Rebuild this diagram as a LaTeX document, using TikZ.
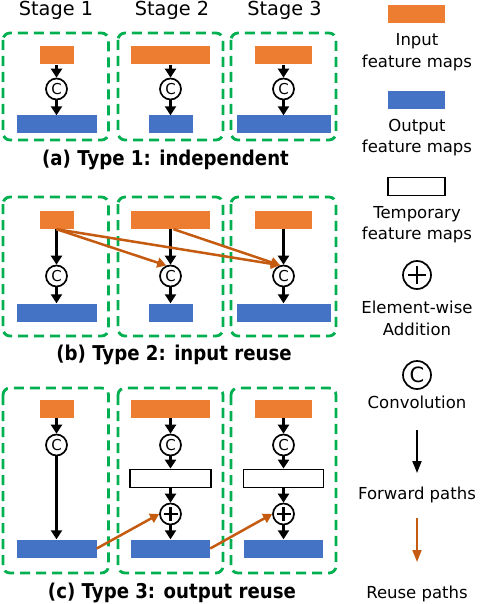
\documentclass[tikz,border=0pt]{standalone}
\usepackage{fontspec}
\usepackage{graphicx}
\setmainfont{DejaVu Sans}
\newcommand{\capbox}[1]{\scalebox{0.89}[1]{\bfseries #1}}
\usetikzlibrary{arrows.meta}
\definecolor{inorange}{HTML}{ED7D31}
\definecolor{outblue}{HTML}{4472C4}
\definecolor{reusecol}{HTML}{C55A11}
\definecolor{stagegreen}{HTML}{00B050}
\tikzset{
  stagebox/.style={draw=stagegreen, line width=2.8pt, dash pattern=on 10pt off 6pt, rounded corners=7pt},
  inmap/.style={fill=inorange, draw=none, minimum height=18pt, inner sep=0pt},
  outmap/.style={fill=outblue, draw=none, minimum height=18pt, inner sep=0pt},
  tmpmap/.style={draw=black, line width=1.8pt, fill=white, minimum height=18pt, inner sep=0pt},
  convop/.style={circle, draw=black, fill=white, line width=1.7pt, minimum size=21pt, inner sep=0pt, font=\fontsize{15}{15}\selectfont},
  addop/.style={circle, draw=black, fill=white, line width=1.7pt, minimum size=21pt, inner sep=0pt,
    path picture={\draw[line width=2.2pt] ([xshift=-#1]path picture bounding box.center) -- ([xshift=#1]path picture bounding box.center);
                  \draw[line width=2.2pt] ([yshift=-#1]path picture bounding box.center) -- ([yshift=#1]path picture bounding box.center);}},
  addop/.default=7pt,
  fwd/.style={draw=black, line width=2.6pt, -{Triangle[length=9pt,width=11pt]}},
  reusearrow/.style={draw=reusecol, line width=2.5pt, -{Triangle[length=9pt,width=10pt]}},
  legfwd/.style={draw=black, line width=1.8pt, -{Triangle[length=12pt,width=9pt]}},
  legreuse/.style={draw=reusecol, line width=1.8pt, -{Triangle[length=12pt,width=9pt]}},
  stagelabel/.style={anchor=base, inner sep=0pt, font=\fontsize{19.3}{20}\selectfont},
  caplabel/.style={anchor=base, inner sep=0pt, font=\fontsize{20.4}{22}\selectfont},
  legtext/.style={anchor=base, inner sep=0pt, font=\fontsize{16.5}{18}\selectfont},
}
\begin{document}
\begin{tikzpicture}[x=1pt,y=-1pt]
\useasboundingbox (0,0) rectangle (482,604);

% stage labels
\node[stagelabel] (st1) at (56,15.7) {Stage 1};
\node[stagelabel] (st2) at (172,15.7) {Stage 2};
\node[stagelabel] (st3) at (284.5,15.7) {Stage 3};

% ---------- panel a ----------
\draw[stagebox] (3,33) rectangle (108.5,140);
\draw[stagebox] (118,33) rectangle (223,140);
\draw[stagebox] (231,33) rectangle (336,140);
\node[inmap, minimum width=34pt] (a1i) at (56.5,55.5) {};
\node[inmap, minimum width=79pt] (a2i) at (170.5,55.5) {};
\node[inmap, minimum width=57pt] (a3i) at (283.5,55.5) {};
\node[convop] (a1c) at (56.5,89) {C};
\node[convop] (a2c) at (170.5,89) {C};
\node[convop] (a3c) at (283.5,89) {C};
\node[outmap, minimum width=80pt] (a1o) at (56.5,124.5) {};
\node[outmap, minimum width=44pt] (a2o) at (170.5,124.5) {};
\node[outmap, minimum width=94pt] (a3o) at (283.5,124.5) {};
\foreach \k in {1,2,3}{
  \draw[fwd] (a\k i) -- (a\k c);
  \draw[fwd] (a\k c) -- (a\k o);
}
\node[caplabel] (capa) at (165.5,165) {\capbox{(a) Type 1: independent}};

% ---------- panel b ----------
\draw[stagebox] (3,197) rectangle (108.5,336);
\draw[stagebox] (118,197) rectangle (223,336);
\draw[stagebox] (231,197) rectangle (336,336);
\node[inmap, minimum width=34pt] (b1i) at (56.5,220) {};
\node[inmap, minimum width=79pt] (b2i) at (170.5,220) {};
\node[inmap, minimum width=57pt] (b3i) at (283.5,220) {};
\node[convop] (b1c) at (56.5,276) {C};
\node[convop] (b2c) at (170.5,276) {C};
\node[convop] (b3c) at (283.5,276) {C};
\node[outmap, minimum width=80pt] (b1o) at (56.5,312.5) {};
\node[outmap, minimum width=44pt] (b2o) at (170.5,312.5) {};
\node[outmap, minimum width=94pt] (b3o) at (283.5,312.5) {};
\foreach \k in {1,2,3}{
  \draw[fwd] (b\k i) -- (b\k c);
  \draw[fwd] (b\k c) -- (b\k o);
}
\draw[reusearrow] (b1i.south) -- (b2c.112);
\draw[reusearrow] (b1i.south) -- (b3c.108);
\draw[reusearrow] ([xshift=3pt]b2i.south) -- (b3c.108);
\node[caplabel] (capb) at (174,360) {\capbox{(b) Type 2: input reuse}};

% ---------- panel c ----------
\draw[stagebox] (3,388) rectangle (108.5,573);
\draw[stagebox] (118,388) rectangle (223,573);
\draw[stagebox] (231,388) rectangle (336,573);
\node[inmap, minimum width=34pt] (c1i) at (56.5,409) {};
\node[inmap, minimum width=79pt] (c2i) at (170.5,409) {};
\node[inmap, minimum width=57pt] (c3i) at (283.5,409) {};
\node[convop] (c1c) at (56.5,445) {C};
\node[convop] (c2c) at (170.5,445) {C};
\node[convop] (c3c) at (283.5,445) {C};
\node[tmpmap, minimum width=81pt] (c2t) at (170.5,478.5) {};
\node[tmpmap, minimum width=80pt] (c3t) at (283.5,478.5) {};
\node[addop] (c2p) at (170.5,514) {};
\node[addop] (c3p) at (283.5,514) {};
\node[outmap, minimum width=80pt] (c1o) at (56.5,548.5) {};
\node[outmap, minimum width=79pt] (c2o) at (170.5,548.5) {};
\node[outmap, minimum width=79pt] (c3o) at (283.5,548.5) {};
\draw[fwd] (c1i) -- (c1c);
\draw[fwd] (c1c) -- (c1o);
\foreach \k in {2,3}{
  \draw[fwd] (c\k i) -- (c\k c);
  \draw[fwd] (c\k c) -- (c\k t);
  \draw[fwd] (c\k t) -- (c\k p);
  \draw[fwd] (c\k p) -- (c\k o);
}
\draw[reusearrow] (c1o.east) -- (c2p.west);
\draw[reusearrow] (c2o.east) -- (c3p.west);
\node[caplabel] (capc) at (172,598) {\capbox{(c) Type 3: output reuse}};

% ---------- legend ----------
\node[inmap, minimum width=57pt] (lin) at (416.5,14.5) {};
\node[legtext] (lin1) at (417,46) {Input};
\node[legtext] (lin2) at (417,67.5) {feature maps};
\node[outmap, minimum width=57pt] (lout) at (416.5,100) {};
\node[legtext] (lout1) at (417,131.5) {Output};
\node[legtext] (lout2) at (417,153) {feature maps};
\node[tmpmap, minimum width=57pt] (ltmp) at (416.5,186.5) {};
\node[legtext] (ltmp1) at (417,218) {Temporary};
\node[legtext] (ltmp2) at (417,239) {feature maps};
\node[addop=9pt, minimum size=28pt] (ladd) at (417,275) {};
\node[legtext] (ladd1) at (417,313) {Element-wise};
\node[legtext] (ladd2) at (417,335) {Addition};
\node[convop, minimum size=28pt, font=\fontsize{21}{21}\selectfont] (lconv) at (417,375) {C};
\node[legtext] (lconv1) at (417,408) {Convolution};
\coordinate (lf1) at (417,430);
\coordinate (lf2) at (417,473);
\draw[legfwd] (lf1) -- (lf2);
\node[legtext] (lfwd) at (417,499) {Forward paths};
\coordinate (lr1) at (417,518);
\coordinate (lr2) at (417,562);
\draw[legreuse] (lr1) -- (lr2);
\node[legtext] (lreu) at (417,598) {Reuse paths};
\end{tikzpicture}
\end{document}
